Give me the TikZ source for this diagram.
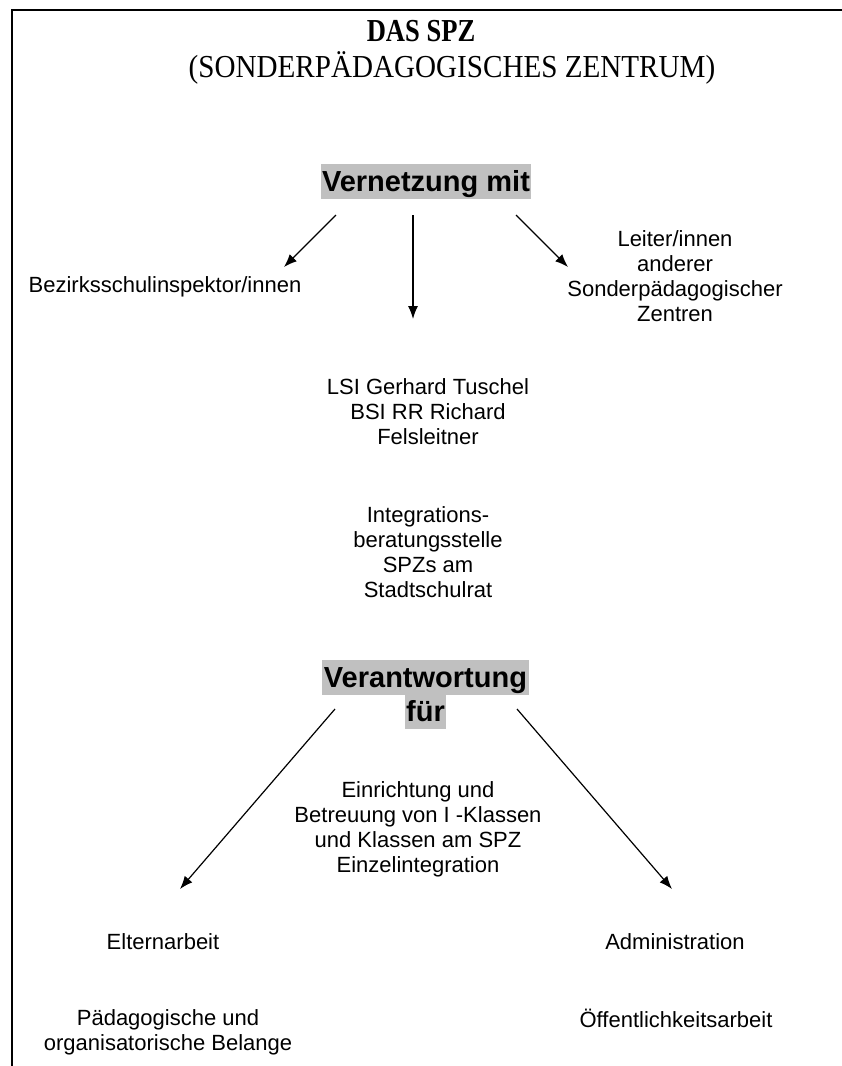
\documentclass[tikz,border=0pt]{standalone}
\usepackage{fontspec}
\setmainfont{Liberation Serif}
\setsansfont{Liberation Sans}
\usetikzlibrary{arrows.meta}
\definecolor{hlgray}{RGB}{192,192,192}
\begin{document}
\begin{tikzpicture}[x=1pt,y=-1pt,
  lbl/.style={font=\sffamily\fontsize{22}{25}\selectfont, align=center, inner sep=0pt},
  hl/.style={font=\sffamily\bfseries\fontsize{29}{33}\selectfont, fill=hlgray,
    text height=26pt, text depth=6pt, inner xsep=1.5pt, inner ysep=1.5pt},
  ttl/.style={font=\fontsize{32}{36}\selectfont, inner sep=0pt, anchor=base},
  arr/.style={-{Latex[length=13pt,width=10pt]}, line width=1.2pt},
  frame/.style={line width=2.5pt}]
\useasboundingbox (0,0) rectangle (842,1066);
\draw[frame] (12,1066) -- (12,10) -- (842,10);

\node[ttl, font=\bfseries\fontsize{32}{36}\selectfont, xscale=0.83] (t1) at (421,41) {DAS SPZ};
\node[ttl, xscale=0.91] (t2) at (452,77) {(SONDERPÄDAGOGISCHES ZENTRUM)};

\node[hl] (vern) at (426,181.5) {Vernetzung mit};

\node[lbl] (bsi) at (165,287) {Bezirksschulinspektor/innen};
\node[lbl] (leiter) at (675,276) {Leiter/innen\\anderer\\Sonderpädagogischer\\Zentren};
\node[lbl] (lsi) at (428,412) {LSI Gerhard Tuschel\\BSI RR Richard\\Felsleitner};
\node[lbl] (ibs) at (428,552) {Integrations-\\beratungsstelle\\SPZs am\\Stadtschulrat};

\coordinate (a1s) at (336,215); \coordinate (a1e) at (284,267);
\coordinate (a2s) at (413,215); \coordinate (a2e) at (413,319);
\coordinate (a3s) at (516,215); \coordinate (a3e) at (568,267);
\draw[arr] (a1s) -- (a1e);
\draw[arr] (a2s) -- (a2e);
\draw[arr] (a3s) -- (a3e);

\node[hl] (ver1) at (425.5,677.5) {Verantwortung};
\node[hl] (ver2) at (425.5,711.5) {für};

\node[lbl] (einr) at (418,829) {Einrichtung und\\Betreuung von I -Klassen\\und Klassen am SPZ\\Einzelintegration};

\coordinate (b1s) at (335,709); \coordinate (b1e) at (180,889);
\coordinate (b2s) at (517,709); \coordinate (b2e) at (672,889);
\draw[arr] (b1s) -- (b1e);
\draw[arr] (b2s) -- (b2e);

\node[lbl] (eltern) at (163,942) {Elternarbeit};
\node[lbl] (admin) at (675,942) {Administration};
\node[lbl] (paed) at (168,1032) {Pädagogische und\\organisatorische Belange};
\node[lbl] (oeff) at (676,1018) {Öffentlichkeitsarbeit};
\end{tikzpicture}
\end{document}
